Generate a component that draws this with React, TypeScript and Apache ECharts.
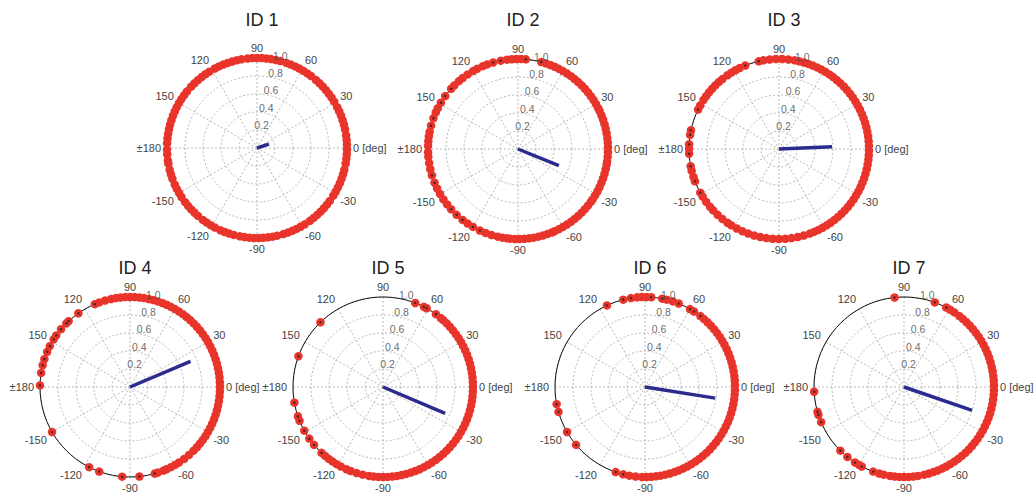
import React, { useEffect, useRef } from 'react';
import * as echarts from 'echarts';

// ---------- data (degrees, signed, 0 = right, counter-clockwise) ----------
const TITLES = ['ID 1', 'ID 2', 'ID 3', 'ID 4', 'ID 5', 'ID 6', 'ID 7'];

const PHASES_1 = [-179, -176, -172, -170, -166, -163, -160, -156, -153, -150, -147, -143, -140, -137, -134, -131, -127, -124, -121, -118, -114, -111, -108, -105, -101, -98, -95, -92, -89, -86, -83, -80, -77, -73, -70, -67, -64, -61, -58, -54, -51, -48, -45, -42, -39, -36, -32, -29, -26, -23, -20, -17, -14, -10, -7, -4, -1, 2, 5, 8, 12, 15, 18, 21, 24, 27, 31, 34, 37, 40, 43, 46, 49, 53, 56, 59, 62, 65, 68, 71, 75, 78, 81, 84, 87, 90, 93, 96, 100, 103, 106, 109, 112, 115, 118, 122, 125, 128, 131, 134, 137, 141, 144, 147, 150, 153, 156, 159, 162, 165, 168, 171, 174, 177];

const PHASES_2 = [97, 101, 106, 110, 113, 117, 120, 124, 128, 131, 135, 138, 144, 149, 153, 156, 160, 165, 169, 172, 175, 178, -178, -175, -171, -167, -163, -158, -154, -150, -146, -142, -138, -133, -128, -124, -120, -115, -111, -107, -103, -100, -97, -95, -92, -89, -86, -83, -80, -77, -74, -71, -68, -66, -63, -60, -57, -54, -51, -48, -45, -42, -39, -36, -34, -31, -28, -25, -22, -19, -16, -13, -10, -8, -5, -2, 1, 4, 7, 10, 13, 16, 19, 22, 25, 27, 30, 33, 36, 39, 42, 45, 48, 51, 54, 57, 60, 63, 66, 69, 72, 75, 85, 88, 91, 94];

const PHASES_3 = [96, 100, 103, 112, 116, 119, 122, 125, 129, 132, 135, 138, 141, 144, 147, 151, 154, 168, 171, 177, 180, -177, -169, -166, -162, -159, -151, -148, -144, -140, -137, -133, -129, -125, -122, -118, -114, -110, -106, -102, -98, -94, -90, -86, -82, -78, -74, -70, -67, -64, -61, -58, -55, -52, -49, -46, -43, -40, -37, -34, -31, -28, -25, -22, -19, -16, -13, -10, -7, -4, -1, 2, 5, 8, 11, 14, 17, 20, 23, 26, 29, 32, 35, 38, 41, 44, 47, 50, 53, 56, 59, 62, 65, 68, 71, 74, 77, 80, 84, 88, 92];

const PHASES_4 = [106, 110, 113, 125, 133, 135, 140, 145, 148, 153, 157, 162, 166, 171, 179, -150, -117, -110, -95, -84, -74, -72, -68, -66, -63, -60, -57, -53, -49, -45, -42, -39, -36, -33, -30, -27, -24, -21, -18, -15, -12, -9, -6, -3, 0, 3, 6, 9, 12, 15, 18, 21, 24, 27, 30, 33, 36, 39, 42, 45, 48, 51, 54, 57, 60, 63, 66, 69, 72, 75, 78, 81, 84, 87, 90, 93, 96, 99, 102];

const PHASES_5 = [134, 160, -170, -161, -158, -151, -145, -140, -133, -130, -127, -124, -121, -118, -114, -111, -107, -103, -99, -96, -93, -90, -87, -84, -81, -78, -75, -72, -69, -66, -63, -60, -57, -54, -51, -48, -45, -42, -39, -36, -33, -30, -27, -24, -21, -18, -15, -12, -9, -6, -3, 0, 3, 6, 9, 12, 15, 18, 21, 24, 27, 30, 33, 36, 39, 42, 45, 48, 50, 54, 61, 63, 69];

const PHASES_6 = [-169, -164, -150, -140, -109, -104, -100, -96, -92, -89, -86, -83, -80, -77, -74, -71, -68, -65, -62, -59, -56, -53, -50, -47, -44, -41, -38, -35, -32, -29, -26, -23, -20, -17, -14, -11, -8, -5, -2, 1, 4, 7, 10, 13, 16, 19, 22, 25, 28, 31, 34, 37, 40, 43, 46, 49, 52, 57, 60, 68, 72, 76, 79, 86, 89, 92, 95, 99, 104, 115];

const PHASES_7 = [-177, -164, -162, -157, -135, -129, -123, -120, -118, -110, -106, -103, -99, -96, -93, -90, -87, -84, -81, -77, -74, -71, -68, -65, -62, -59, -56, -53, -50, -47, -44, -41, -38, -35, -32, -29, -26, -23, -20, -17, -14, -11, -8, -5, -2, 1, 4, 7, 10, 13, 16, 19, 22, 25, 28, 31, 34, 37, 40, 43, 46, 49, 52, 56, 59, 62, 70, 96];

const PHASES = [PHASES_1, PHASES_2, PHASES_3, PHASES_4, PHASES_5, PHASES_6, PHASES_7];

// mean resultant vector: angle (deg) and length
const MEAN_ANGLE = [18, -22, 2.5, 23, -23, -9, -19];
const MEAN_LENGTH = [0.14, 0.49, 0.59, 0.73, 0.75, 0.79, 0.8];

const RADIUS_TICKS = [0.2, 0.4, 0.6, 0.8, 1.0];

// ---------- layout / style ----------
const CENTERS: [number, number][] = [
  [257, 148], [518, 149], [779, 149],
  [130, 387], [383, 387], [645, 387], [904, 387],
];
const RADIUS = 90;
const RED = '#e8342b';
const BLUE = '#2b2a8e';
const GRID = '#b8b8b8';
const FONT = 'Liberation Sans, Arial, sans-serif';
const RADIUS_LABEL_ANGLE = 75;

// angle axis runs from 90 to 450 (start at top, counter-clockwise)
const toAxis = (a: number) => (a < 90 ? a + 360 : a);

const angleLabel = (v: number) => {
  let d = Math.round(v) % 360;
  if (d > 180) d -= 360;
  if (d === 0) return '0 [deg]';
  if (d === 180) return '\u00b1180';
  return String(d);
};

function blackDots(list: number[]) {
  const s = list.map(toAxis).sort((a, b) => a - b);
  const n = s.length;
  return s.filter((v, i) => {
    const prev = s[(i - 1 + n) % n];
    const next = s[(i + 1) % n];
    const gp = ((v - prev) + 360) % 360;
    const gn = ((next - v) + 360) % 360;
    return !(gp <= 4.2 && gn <= 4.2);
  });
}

export default function App() {
  const ref = useRef<HTMLDivElement>(null);

  useEffect(() => {
    if (!ref.current) return;
    const chart = echarts.init(ref.current, undefined, { renderer: 'svg' });

    const polar: any[] = [];
    const angleAxis: any[] = [];
    const radiusAxis: any[] = [];
    const series: any[] = [];
    const title: any[] = [];

    TITLES.forEach((t, i) => {
      const [cx, cy] = CENTERS[i];
      title.push({
        text: t,
        left: cx,
        top: i < 3 ? 6 : 254,
        textAlign: 'center',
        textStyle: { fontSize: 18, fontWeight: 'normal', color: '#222', fontFamily: FONT },
      });
      polar.push({ center: [cx, cy], radius: RADIUS });
      angleAxis.push({
        polarIndex: i,
        type: 'value',
        min: 90,
        max: 450,
        interval: 30,
        startAngle: 90,
        clockwise: false,
        axisLine: { show: true, lineStyle: { color: '#111', width: 1 } },
        axisTick: { show: false },
        axisLabel: {
          show: true,
          margin: 6,
          color: '#444',
          fontSize: 11,
          lineHeight: 9,
          fontFamily: FONT,
          formatter: angleLabel,
        },
        splitLine: { show: true, lineStyle: { color: GRID, type: [2, 2], width: 1 } },
      });
      radiusAxis.push({
        polarIndex: i,
        type: 'value',
        min: 0,
        max: 1,
        interval: 0.2,
        axisLine: { show: false },
        axisTick: { show: false },
        axisLabel: { show: false },
        splitLine: { show: true, lineStyle: { color: GRID, type: [2, 2], width: 1 } },
      });

      series.push({
        type: 'scatter',
        coordinateSystem: 'polar',
        polarIndex: i,
        symbol: 'circle',
        symbolSize: 8.5,
        itemStyle: { color: RED, opacity: 1 },
        silent: true,
        z: 3,
        data: PHASES[i].map((a) => [1, toAxis(a)]),
      });
      series.push({
        type: 'scatter',
        coordinateSystem: 'polar',
        polarIndex: i,
        symbol: 'circle',
        symbolSize: 2.5,
        itemStyle: { color: '#222' },
        silent: true,
        z: 4,
        data: blackDots(PHASES[i]).map((v) => [1, v]),
      });
      series.push({
        type: 'line',
        coordinateSystem: 'polar',
        polarIndex: i,
        symbol: 'none',
        silent: true,
        z: 5,
        lineStyle: { color: BLUE, width: 3.5, cap: 'butt' },
        data: [
          [0, toAxis(MEAN_ANGLE[i])],
          [MEAN_LENGTH[i], toAxis(MEAN_ANGLE[i])],
        ],
      });
      series.push({
        type: 'scatter',
        coordinateSystem: 'polar',
        polarIndex: i,
        symbolSize: 0,
        silent: true,
        z: 6,
        label: {
          show: true,
          position: 'top',
          distance: 0,
          color: '#444',
          fontSize: 10.5,
          fontFamily: FONT,
          formatter: (p: any) => Number(p.value[0]).toFixed(1),
        },
        data: RADIUS_TICKS.map((r) => [r, toAxis(RADIUS_LABEL_ANGLE)]),
      });
    });

    chart.setOption({
      animation: false,
      backgroundColor: '#ffffff',
      title,
      polar,
      angleAxis,
      radiusAxis,
      series,
    });

    return () => chart.dispose();
  }, []);

  return (
    <div
      ref={ref}
      style={{ position: 'fixed', left: 0, top: 0, width: 1034, height: 493, background: '#fff' }}
    />
  );
}
